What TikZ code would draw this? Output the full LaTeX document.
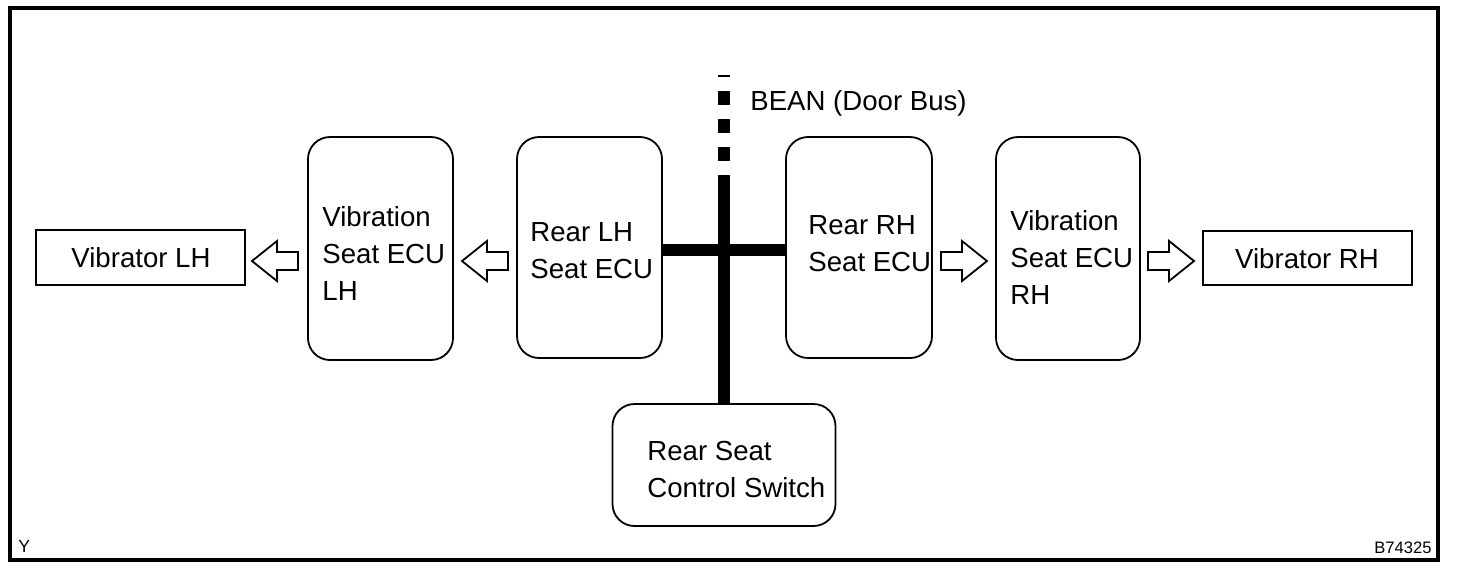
\documentclass[tikz,border=0pt]{standalone}
\usepackage{fontspec}
\setmainfont{Liberation Sans}
\begin{document}
\begin{tikzpicture}[x=0.5pt,y=-0.5pt,
  box/.style={draw,line width=0.9pt,inner sep=0pt},
  ecubox/.style={box,rounded corners=11pt},
  txt/.style={font=\fontsize{13.8}{18.5}\selectfont,align=left,inner sep=0pt,anchor=west},
  bus/.style={line width=6.2pt,line cap=butt},
  pics/hollowarrow/.style={code={\draw[line width=0.9pt,line join=miter] (0,-9) -- (21,-9) -- (21,-20) -- (46,0) -- (21,20) -- (21,9) -- (0,9) -- cycle;}}
]
\useasboundingbox (0,0) rectangle (1472,570);
\draw[line width=2pt] (10,8) rectangle (1438,560);

% boxes
\node[box,minimum width=104.5pt,minimum height=27.5pt] (vlh) at (140.5,257.5) {};
\node[box,minimum width=104.5pt,minimum height=27pt] (vrh) at (1307.5,258) {};
\node[ecubox,minimum width=72.5pt,minimum height=111.5pt] (ecul) at (380.5,248.5) {};
\node[ecubox,minimum width=72.5pt,minimum height=110.5pt] (rlh) at (589.5,247.5) {};
\node[ecubox,minimum width=73pt,minimum height=110.5pt] (rrh) at (859,247.5) {};
\node[ecubox,minimum width=72pt,minimum height=111.5pt] (ecur) at (1068,248.5) {};
\node[ecubox,minimum width=111.5pt,minimum height=61pt] (sw) at (724,465) {};

% texts
\node[txt,anchor=center] (tvlh) at (141,258) {Vibrator LH};
\node[txt,anchor=center] (tvrh) at (1307,259) {Vibrator RH};
\node[txt] (tecul) at (322,253) {Vibration\\Seat ECU\\LH};
\node[txt] (trlh) at (530,251) {Rear LH\\Seat ECU};
\node[txt] (trrh) at (808,243.5) {Rear RH\\Seat ECU};
\node[txt] (tecur) at (1010,257) {Vibration\\Seat ECU\\RH};
\node[txt] (tsw) at (647,469) {Rear Seat\\Control Switch};
\node[txt] (bean) at (750,103) {BEAN (Door Bus)};
\node[font=\fontsize{8.8}{10}\selectfont,inner sep=0pt,anchor=west] (y) at (18,546) {Y};
\node[font=\fontsize{8.3}{10}\selectfont,inner sep=0pt,anchor=east] (code) at (1432,548) {B74325};

% bus
\coordinate (bustop) at (724,175);
\coordinate (busend) at (724,75);
\draw[bus] (sw.north) -- (bustop);
\draw[bus,dash pattern=on 7pt off 7pt,dash phase=7pt] (bustop) -- (busend);
\draw[bus] (rlh.east |- 0,250) -- (rrh.west |- 0,250);

% hollow arrows
\pic[xscale=-1] at (298,261) {hollowarrow};
\pic[xscale=-1] at (508,261) {hollowarrow};
\pic at (941,261) {hollowarrow};
\pic at (1148,261) {hollowarrow};
\end{tikzpicture}
\end{document}
